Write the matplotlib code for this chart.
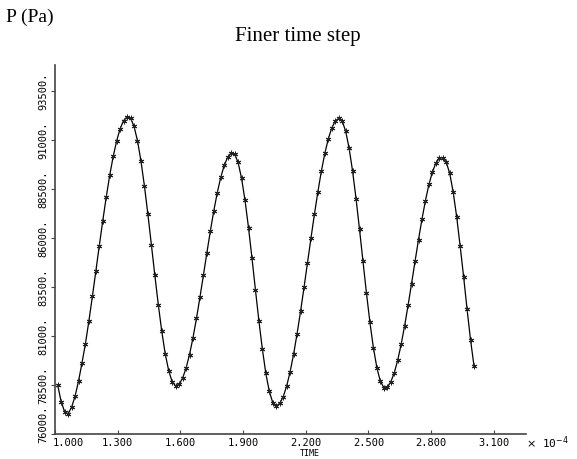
import numpy as np
import matplotlib
matplotlib.use("Agg")
import matplotlib.pyplot as plt
from matplotlib import transforms

# 时间轴（单位 1e-4 s），等步长
t0 = 1.0129
dt = 0.0166

# 压力 (Pa)
pressure = [
    78500, 77648, 77138, 77030, 77360, 77920, 78690, 79620, 80608, 81773,
    83017, 84312, 85615, 86888, 88093, 89200, 90159, 90958, 91575, 91988,
    92176, 92113, 91705, 90964, 89931, 88658, 87208, 85664, 84101, 82602,
    81239, 80084, 79226, 78663, 78451, 78540, 78846, 79357, 80053, 80910,
    81893, 82971, 84101, 85241, 86352, 87388, 88313, 89093, 89705, 90126,
    90330, 90284, 89853, 89046, 87916, 86528, 84977, 83357, 81767, 80323,
    79087, 78169, 77599, 77430, 77559, 77900, 78446, 79177, 80072, 81112,
    82252, 83475, 84732, 85987, 87213, 88358, 89409, 90322, 91056, 91611,
    91966, 92108, 91970, 91452, 90583, 89412, 88001, 86434, 84801, 83190,
    81695, 80403, 79381, 78688, 78371, 78400, 78654, 79113, 79760, 80572,
    81521, 82570, 83677, 84808, 85917, 86962, 87912, 88730, 89363, 89825,
    90073, 90100, 89862, 89301, 88332, 87087, 85592, 84026, 82362, 80796,
    79469,
]
time = t0 + dt * np.arange(len(pressure))

xticks = [1.0, 1.3, 1.6, 1.9, 2.2, 2.5, 2.8, 3.1]
xlabels = ["1.000", "1.300", "1.600", "1.900", "2.200", "2.500", "2.800", "3.100"]
yticks = [76000, 78500, 81000, 83500, 86000, 88500, 91000, 93500]
ylabels = ["76000.", "78500.", "81000.", "83500.", "86000.", "88500.", "91000.", "93500."]

mono = "DejaVu Sans Mono"
serif = "Liberation Serif"

fig = plt.figure(figsize=(5.77, 4.59), dpi=100)
ax = fig.add_axes([0.0953, 0.0545, 0.8163, 0.8039])

ax.plot(time, pressure, color="black", lw=0.9,
        marker=(6, 2, 0), ms=4, mew=0.7, mec="#222222")

ax.set_xlim(1.0, 3.2536)
ax.set_ylim(76000, 94827)

for s in ["top", "right"]:
    ax.spines[s].set_visible(False)
for s in ["left", "bottom"]:
    ax.spines[s].set_color("#444444")
    ax.spines[s].set_linewidth(1.2)

ax.set_xticks(xticks)
ax.set_xticklabels(xlabels, fontfamily=mono, fontsize=7.5)
ax.set_yticks(yticks)
ax.set_yticklabels(ylabels, fontfamily=mono, fontsize=7.5, rotation=90, va="center")
ax.tick_params(axis="x", direction="in", length=3, pad=3, color="#444444")
ax.tick_params(axis="y", direction="out", length=3, pad=2, color="#444444")

# 第一个 x 标签右移，避免和 y 轴重叠
first = ax.get_xticklabels()[0]
first.set_transform(first.get_transform() + transforms.ScaledTranslation(13 / 100, 0, fig.dpi_scale_trans))
# 最底部的 y 标签上移
bottom = ax.get_yticklabels()[0]
bottom.set_transform(bottom.get_transform() + transforms.ScaledTranslation(0, 10 / 100, fig.dpi_scale_trans))

fig.text(310 / 577, 1 - 454 / 459, "TIME", ha="center", va="center", fontfamily=mono, fontsize=6)
fig.text(526 / 577, 1 - 443 / 459, r"$\times$ 10$^{-4}$", ha="left", va="center", fontfamily=mono, fontsize=8)

fig.text(6 / 577, 1 - 17 / 459, "P (Pa)", ha="left", va="center", fontfamily=serif, fontsize=14)
fig.text(298 / 577, 1 - 36 / 459, "Finer time step", ha="center", va="center", fontfamily=serif, fontsize=15)

fig.savefig("out.png", dpi=100)
